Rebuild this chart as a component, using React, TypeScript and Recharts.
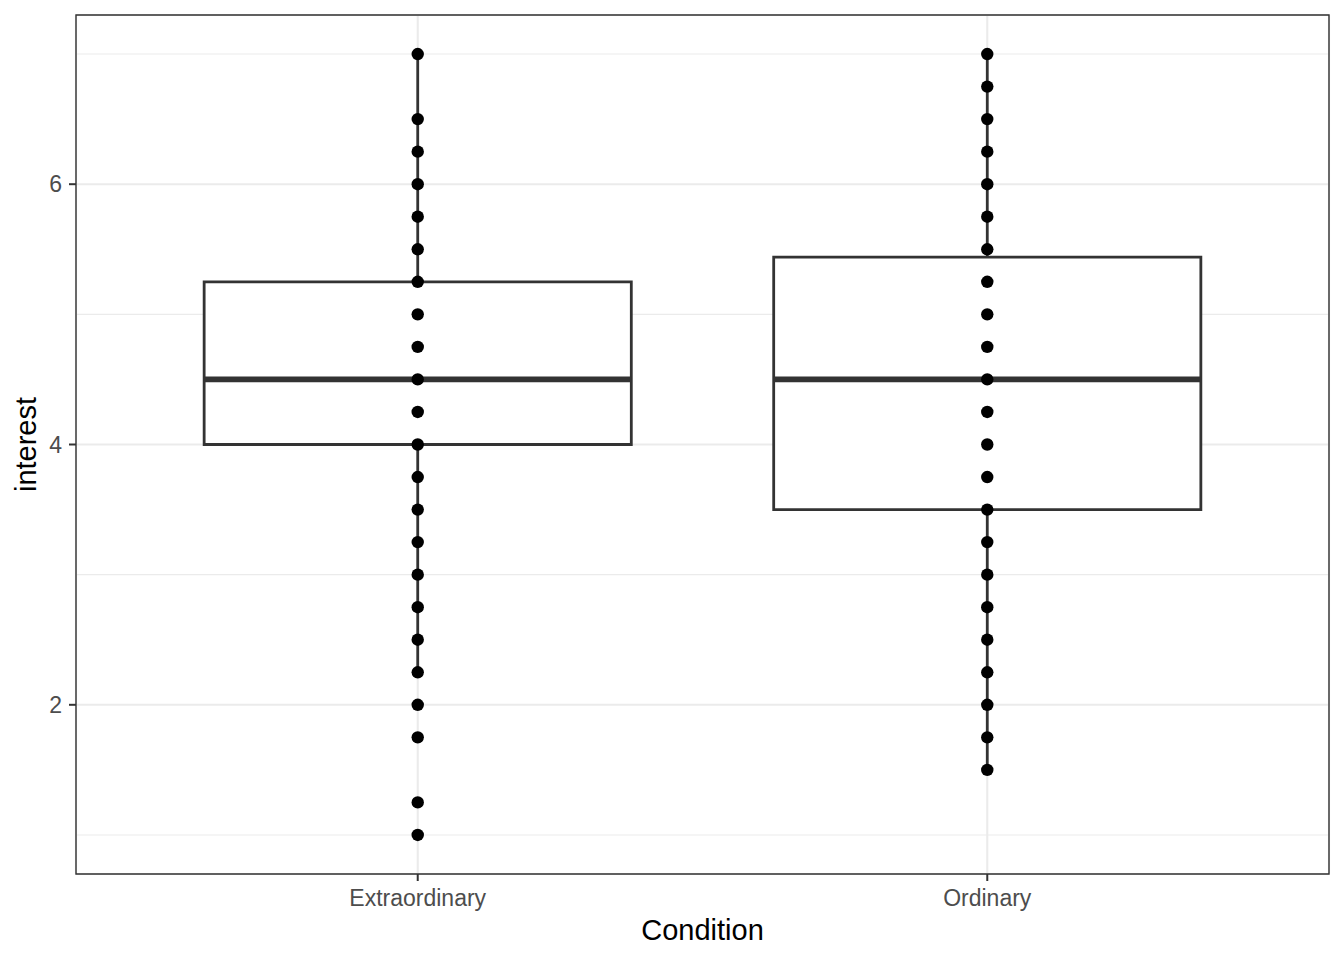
import {
  CartesianGrid,
  ComposedChart,
  ReferenceArea,
  ReferenceLine,
  Scatter,
  XAxis,
  YAxis,
} from "recharts";

// boxplot of interest by condition
const categories = ["Extraordinary", "Ordinary"];

const extraordinaryInterest = [
  7, 6.5, 6.25, 6, 5.75, 5.5, 5.25, 5, 4.75, 4.5, 4.25, 4, 3.75, 3.5, 3.25, 3, 2.75, 2.5, 2.25, 2, 1.75, 1.25, 1,
];
const ordinaryInterest = [
  7, 6.75, 6.5, 6.25, 6, 5.75, 5.5, 5.25, 5, 4.75, 4.5, 4.25, 4, 3.75, 3.5, 3.25, 3, 2.75, 2.5, 2.25, 2, 1.75, 1.5,
];

const lowerWhisker = [2.25, 1.5];
const firstQuartile = [4, 3.5];
const medianInterest = [4.5, 4.5];
const thirdQuartile = [5.25, 5.44];
const upperWhisker = [7, 7];

const yTicks = [2, 4, 6];
const yMinorTicks = [1, 3, 5, 7];
const xTicks = [1, 2];

const BOX_WIDTH = 0.75;
const X_DOMAIN: [number, number] = [0.4, 2.6];
const Y_DOMAIN: [number, number] = [0.7, 7.3];

const FONT = '"Liberation Sans", Arial, Helvetica, sans-serif';
const INK = "#333333";

const pointSeries = [extraordinaryInterest, ordinaryInterest].map((values, i) =>
  values.map((v) => ({ x: i + 1, y: v })),
);

function Dot(props: any) {
  const { cx, cy } = props;
  if (cx == null || cy == null) return null;
  return <circle cx={cx} cy={cy} r={6.2} fill="#000000" />;
}

function XTitle(props: any) {
  const vb = props.viewBox || {};
  return (
    <text
      x={vb.x + vb.width / 2}
      y={vb.y + 66}
      textAnchor="middle"
      fontSize={29}
      fontFamily={FONT}
      fill="#000000"
    >
      Condition
    </text>
  );
}

function YTitle(props: any) {
  const vb = props.viewBox || {};
  const cx = 18;
  const cy = vb.y + vb.height / 2;
  return (
    <text
      x={cx}
      y={cy}
      transform={`rotate(-90 ${cx} ${cy})`}
      textAnchor="middle"
      dominantBaseline="central"
      fontSize={29}
      fontFamily={FONT}
      fill="#000000"
    >
      interest
    </text>
  );
}

export default function App() {
  return (
    <div style={{ width: 1336, height: 944, fontFamily: FONT }}>
      <ComposedChart width={1336} height={944} margin={{ top: 7, right: 15, bottom: 0, left: 0 }}>
        <CartesianGrid stroke="#EBEBEB" strokeWidth={2.1} />
        <XAxis
          type="number"
          dataKey="x"
          domain={X_DOMAIN}
          ticks={xTicks}
          allowDataOverflow
          tickFormatter={(v: number) => categories[v - 1] ?? ""}
          height={78}
          axisLine={false}
          tickSize={7}
          tickMargin={9}
          tickLine={{ stroke: INK, strokeWidth: 2 }}
          tick={{ fill: "#4D4D4D", fontSize: 23, fontFamily: FONT }}
          label={<XTitle />}
        />
        <YAxis
          type="number"
          dataKey="y"
          domain={Y_DOMAIN}
          ticks={yTicks}
          allowDataOverflow
          width={68}
          axisLine={false}
          tickSize={7}
          tickMargin={7}
          tickLine={{ stroke: INK, strokeWidth: 2 }}
          tick={{ fill: "#4D4D4D", fontSize: 23, fontFamily: FONT }}
          label={<YTitle />}
        />

        {yMinorTicks.map((t) => (
          <ReferenceLine key={`minor-${t}`} y={t} stroke="#EBEBEB" strokeWidth={1.1} zIndex={-50} />
        ))}

        {categories.map((c, i) => (
          <ReferenceLine
            key={`wl-${c}`}
            segment={[
              { x: i + 1, y: lowerWhisker[i] },
              { x: i + 1, y: firstQuartile[i] },
            ]}
            stroke={INK}
            strokeWidth={2.8}
            zIndex={40}
          />
        ))}
        {categories.map((c, i) => (
          <ReferenceLine
            key={`wu-${c}`}
            segment={[
              { x: i + 1, y: thirdQuartile[i] },
              { x: i + 1, y: upperWhisker[i] },
            ]}
            stroke={INK}
            strokeWidth={2.8}
            zIndex={40}
          />
        ))}
        {categories.map((c, i) => (
          <ReferenceArea
            key={`box-${c}`}
            x1={i + 1 - BOX_WIDTH / 2}
            x2={i + 1 + BOX_WIDTH / 2}
            y1={firstQuartile[i]}
            y2={thirdQuartile[i]}
            fill="#FFFFFF"
            fillOpacity={1}
            stroke={INK}
            strokeWidth={2.8}
            zIndex={50}
          />
        ))}
        {categories.map((c, i) => (
          <ReferenceLine
            key={`med-${c}`}
            segment={[
              { x: i + 1 - BOX_WIDTH / 2, y: medianInterest[i] },
              { x: i + 1 + BOX_WIDTH / 2, y: medianInterest[i] },
            ]}
            stroke={INK}
            strokeWidth={5.7}
            zIndex={60}
          />
        ))}

        {pointSeries.map((data, i) => (
          <Scatter
            key={`pts-${categories[i]}`}
            data={data}
            dataKey="y"
            shape={<Dot />}
            isAnimationActive={false}
            zIndex={600}
          />
        ))}

        <ReferenceArea
          x1={X_DOMAIN[0]}
          x2={X_DOMAIN[1]}
          y1={Y_DOMAIN[0]}
          y2={Y_DOMAIN[1]}
          fill="none"
          fillOpacity={0}
          stroke={INK}
          strokeWidth={1.4}
          zIndex={1000}
        />
      </ComposedChart>
    </div>
  );
}
